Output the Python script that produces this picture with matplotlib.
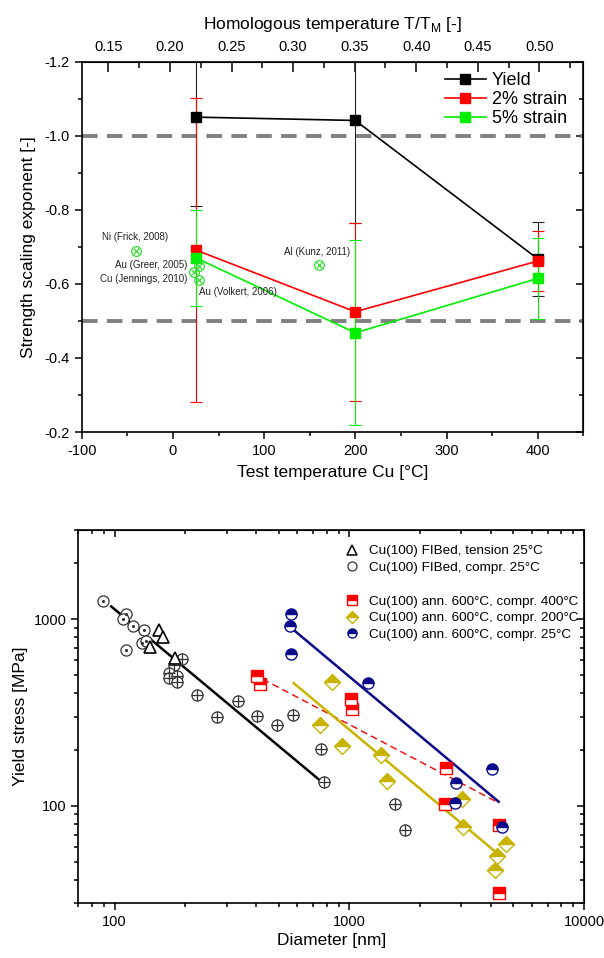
import numpy as np
import matplotlib
matplotlib.use("Agg")
import matplotlib.pyplot as plt
from matplotlib.lines import Line2D
from matplotlib.ticker import MultipleLocator, FixedLocator, NullFormatter, LogLocator

plt.rcParams['font.family'] = ['Liberation Sans', 'DejaVu Sans']
plt.rcParams['mathtext.fontset'] = 'custom'
plt.rcParams['mathtext.rm'] = 'Liberation Sans'
plt.rcParams['axes.unicode_minus'] = False

# ---------------- Top panel data ----------------
temps = [25, 200, 400]
yield_exp = [-1.051, -1.042, -0.668]
yield_err = [0.24, 0.278, 0.10]
s2_exp = [-0.692, -0.525, -0.662]
s2_err = [0.41, 0.24, 0.08]
s5_exp = [-0.671, -0.468, -0.615]
s5_err = [0.13, 0.25, 0.11]

lit_labels = ["Ni (Frick, 2008)", "Au (Greer, 2005)", "Cu (Jennings, 2010)",
              "Au (Volkert, 2006)", "Al (Kunz, 2011)"]
lit_temp = [-41, 28.5, 22.7, 28.5, 160]
lit_exp = [-0.69, -0.649, -0.633, -0.611, -0.65]

ref_levels = [-1.0, -0.5]
T_MELT = 1350.0

# ---------------- Bottom panel data ----------------
tens_d = [154.2, 160.8, 141.9, 180.9]
tens_s = [876, 797, 710, 622]

comp_d = [89.4, 111.4, 108.5, 119.7, 133.4, 131.2, 111.4, 136.0]
comp_s = [1243, 1064, 1000, 921, 876, 744, 679, 760]

compx_d = [194.4, 179.1, 170.5, 170.5, 185.1, 185.1, 224, 336, 274, 404, 492, 573, 760, 783, 1558, 1719]
compx_s = [613, 569, 514, 483, 493, 460, 390, 365, 298, 302, 269, 306, 201, 134, 102, 74.4]
comp_fit_d = [96.7, 745]
comp_fit_s = [1168, 137.5]

a400_d = [406, 416, 1018, 1024, 2572, 2555, 4344, 4344]
a400_s = [493, 450, 373, 330, 159, 102, 79, 34.1]
a400_fit_d = [427, 4301]
a400_fit_s = [477, 104]

a200_d = [841, 749, 927, 1367, 1444, 3031, 3049, 4259, 4176, 4672]
a200_s = [460, 272, 210, 186, 136, 108, 76.5, 53.5, 45.4, 62.4]
a200_fit_d = [579, 4176]
a200_fit_s = [454, 56.9]

a25_d = [562, 559, 563, 1203, 4055, 2858, 2818, 4491]
a25_s = [1068, 913, 648, 456, 158, 133, 103, 76.5]
a25_fit_d = [560, 4330]
a25_fit_s = [906, 105]

legend_labels = ["Cu(100) FIBed, tension 25\u00b0C", "Cu(100) FIBed, compr. 25\u00b0C", "",
                 "Cu(100) ann. 600\u00b0C, compr. 400\u00b0C",
                 "Cu(100) ann. 600\u00b0C, compr. 200\u00b0C",
                 "Cu(100) ann. 600\u00b0C, compr. 25\u00b0C"]

RED = '#ff0000'
GREEN = '#00ee00'
LITGREEN = '#33dd33'
YEL = '#c8b400'
NAVY = '#0a0a8a'

fig = plt.figure(figsize=(6.04, 9.58), dpi=100)

# ======== TOP PANEL ========
ax = fig.add_axes([81.7/604, 1-432/958, (583.3-81.7)/604, (432-62)/958])
for lv in ref_levels:
    ax.axhline(lv, color='#808080', lw=2.8, ls=(0, (4, 2.4)), zorder=1)

ax.errorbar(temps, yield_exp, yerr=yield_err, fmt='none', ecolor='#222222', elinewidth=0.8, capsize=4, capthick=0.8, zorder=2)
ax.errorbar(temps, s2_exp, yerr=s2_err, fmt='none', ecolor=RED, elinewidth=0.8, capsize=4, capthick=0.8, zorder=2)
ax.errorbar(temps, s5_exp, yerr=s5_err, fmt='none', ecolor=GREEN, elinewidth=0.8, capsize=4, capthick=0.8, zorder=2)
ax.plot(temps, yield_exp, '-s', color='black', lw=1.2, ms=7, label='Yield', zorder=4)
ax.plot(temps, s2_exp, '-s', color=RED, lw=1.2, ms=7, label='2% strain', zorder=4)
ax.plot(temps, s5_exp, '-s', color=GREEN, lw=1.2, ms=7, label='5% strain', zorder=4)

ax.plot(lit_temp, lit_exp, 'o', mfc='none', mec=LITGREEN, ms=7, mew=0.9, zorder=5)
ax.plot(lit_temp, lit_exp, 'x', color=LITGREEN, ms=4.5, mew=0.9, zorder=5)

# label anchor positions (layout, in data coordinates) and alignment
lab_pos = [(-41, -0.727, 'center'), (16, -0.651, 'right'), (16, -0.614, 'right'),
           (29, -0.578, 'left'), (158, -0.687, 'center')]
for lab, (tx, ty, ha) in zip(lit_labels, lab_pos):
    ax.text(tx, ty, lab, ha=ha, va='center', fontsize=7, color='#222222', zorder=6)

ax.set_xlim(-100, 450)
ax.set_ylim(-0.2, -1.2)
ax.xaxis.set_major_locator(MultipleLocator(100))
ax.xaxis.set_minor_locator(MultipleLocator(50))
ax.yaxis.set_major_locator(MultipleLocator(0.2))
ax.yaxis.set_minor_locator(MultipleLocator(0.1))
ax.yaxis.set_major_formatter(matplotlib.ticker.FormatStrFormatter('%.1f'))
ax.tick_params(which='both', direction='out', top=False, right=False, labelsize=10.5, width=1.1)
ax.tick_params(which='major', length=5)
ax.tick_params(which='minor', length=3)
ax.set_xlabel('Test temperature Cu [\u00b0C]', fontsize=12.5, labelpad=5)
ax.set_ylabel('Strength scaling exponent [-]', fontsize=12.5, labelpad=6)
for sp in ax.spines.values():
    sp.set_linewidth(1.2)
ax2r = ax.secondary_yaxis('right')
ax2r.yaxis.set_major_locator(MultipleLocator(0.2))
ax2r.yaxis.set_minor_locator(MultipleLocator(0.1))
ax2r.tick_params(which='both', direction='in', labelright=False, width=1.1)
ax2r.tick_params(which='major', length=5)
ax2r.tick_params(which='minor', length=3)

sec = ax.secondary_xaxis('top', functions=(lambda t: (t + 273.15) / T_MELT, lambda h: h * T_MELT - 273.15))
sec.xaxis.set_major_locator(FixedLocator([0.15, 0.20, 0.25, 0.30, 0.35, 0.40, 0.45, 0.50]))
sec.xaxis.set_minor_locator(FixedLocator(list(np.arange(0.125, 0.55, 0.05))))
sec.xaxis.set_major_formatter(matplotlib.ticker.FormatStrFormatter('%.2f'))
sec.tick_params(which='both', direction='in', labelsize=10.5, width=1.1, pad=6)
sec.tick_params(which='major', length=7)
sec.tick_params(which='minor', length=4)
sec.set_xlabel('Homologous temperature T/T$_\\mathregular{M}$ [-]', fontsize=12.5, labelpad=8)

ax.legend(loc='upper right', bbox_to_anchor=(0.967, 0.972), frameon=False, fontsize=13,
          handlelength=2.3, handletextpad=0.3, labelspacing=0.1, borderpad=0, borderaxespad=0)

# ======== BOTTOM PANEL ========
bx = fig.add_axes([78.3/604, 1-903.3/958, (584-78.3)/604, (903.3-530)/958])
bx.set_xscale('log')
bx.set_yscale('log')

bx.plot(comp_fit_d, comp_fit_s, '-', color='black', lw=1.8, zorder=2)
bx.plot(a400_fit_d, a400_fit_s, '--', color=RED, lw=1.0, dashes=(5, 3), zorder=2)
bx.plot(a200_fit_d, a200_fit_s, '-', color=YEL, lw=1.8, zorder=2)
bx.plot(a25_fit_d, a25_fit_s, '-', color=NAVY, lw=1.8, zorder=2)

ms = 8
bx.plot(compx_d, compx_s, 'o', mfc='white', mec='#333333', ms=ms, mew=0.9, zorder=3)
bx.plot(compx_d, compx_s, '+', color='#333333', ms=ms, mew=0.9, zorder=3)
bx.plot(comp_d, comp_s, 'o', mfc='white', mec='#333333', ms=ms, mew=0.9, zorder=3)
bx.plot(comp_d, comp_s, '.', color='#333333', ms=2.5, zorder=3)
bx.plot(tens_d, tens_s, '^', mfc='white', mec='black', ms=ms, mew=1.2, zorder=4)
bx.plot(a400_d, a400_s, 's', color=RED, mec=RED, fillstyle='top', mfcalt='white', ms=ms, mew=1.0, zorder=4)
bx.plot(a200_d, a200_s, 'D', color=YEL, mec=YEL, fillstyle='top', mfcalt='white', ms=ms, mew=1.0, zorder=4)
bx.plot(a25_d, a25_s, 'o', color=NAVY, mec=NAVY, fillstyle='top', mfcalt='white', ms=ms, mew=1.0, zorder=4)

bx.set_xlim(70, 10000)
bx.set_ylim(30, 3000)
bx.xaxis.set_major_locator(FixedLocator([100, 1000, 10000]))
bx.xaxis.set_major_formatter(matplotlib.ticker.FuncFormatter(lambda v, p: '%d' % v))
bx.xaxis.set_minor_locator(LogLocator(base=10, subs=np.arange(2, 10)))
bx.xaxis.set_minor_formatter(NullFormatter())
bx.yaxis.set_major_locator(FixedLocator([100, 1000]))
bx.yaxis.set_major_formatter(matplotlib.ticker.FuncFormatter(lambda v, p: '%d' % v))
bx.yaxis.set_minor_locator(LogLocator(base=10, subs=np.arange(2, 10)))
bx.yaxis.set_minor_formatter(NullFormatter())
bx.tick_params(which='both', direction='out', labelsize=10.5, width=1.1)
bx.tick_params(which='major', length=5)
bx.tick_params(which='minor', length=3)
for sp in bx.spines.values():
    sp.set_linewidth(1.2)
bsx = bx.secondary_xaxis('top')
bsx.set_xscale('log')
bsx.xaxis.set_major_locator(FixedLocator([100, 1000, 10000]))
bsx.xaxis.set_minor_locator(LogLocator(base=10, subs=np.arange(2, 10)))
bsx.tick_params(which='both', direction='in', labeltop=False, width=1.1)
bsx.tick_params(which='major', length=5)
bsx.tick_params(which='minor', length=3)
bsy = bx.secondary_yaxis('right')
bsy.set_yscale('log')
bsy.yaxis.set_major_locator(FixedLocator([100, 1000]))
bsy.yaxis.set_minor_locator(LogLocator(base=10, subs=np.arange(2, 10)))
bsy.tick_params(which='both', direction='in', labelright=False, width=1.1)
bsy.tick_params(which='major', length=5)
bsy.tick_params(which='minor', length=3)

bx.set_xlabel('Diameter [nm]', fontsize=12.5, labelpad=3)
bx.set_ylabel('Yield stress [MPa]', fontsize=12.5, labelpad=4)

lms = 6.5
handles = [
    Line2D([], [], ls='none', marker='^', mfc='white', mec='black', ms=lms, mew=1.1),
    Line2D([], [], ls='none', marker='o', mfc='white', mec='#333333', ms=lms, mew=0.9),
    Line2D([], [], ls='none'),
    Line2D([], [], ls='none', marker='s', color=RED, mec=RED, fillstyle='top', mfcalt='white', ms=lms),
    Line2D([], [], ls='none', marker='D', color=YEL, mec=YEL, fillstyle='top', mfcalt='white', ms=lms),
    Line2D([], [], ls='none', marker='o', color=NAVY, mec=NAVY, fillstyle='top', mfcalt='white', ms=lms),
]
leg = bx.legend(handles, legend_labels, loc='upper left', bbox_to_anchor=(0.527, 0.96), frameon=False,
                fontsize=9.7, handlelength=1.0, handletextpad=0.8, labelspacing=0.32, borderpad=0, borderaxespad=0)

fig.savefig('out.png', dpi=100)
